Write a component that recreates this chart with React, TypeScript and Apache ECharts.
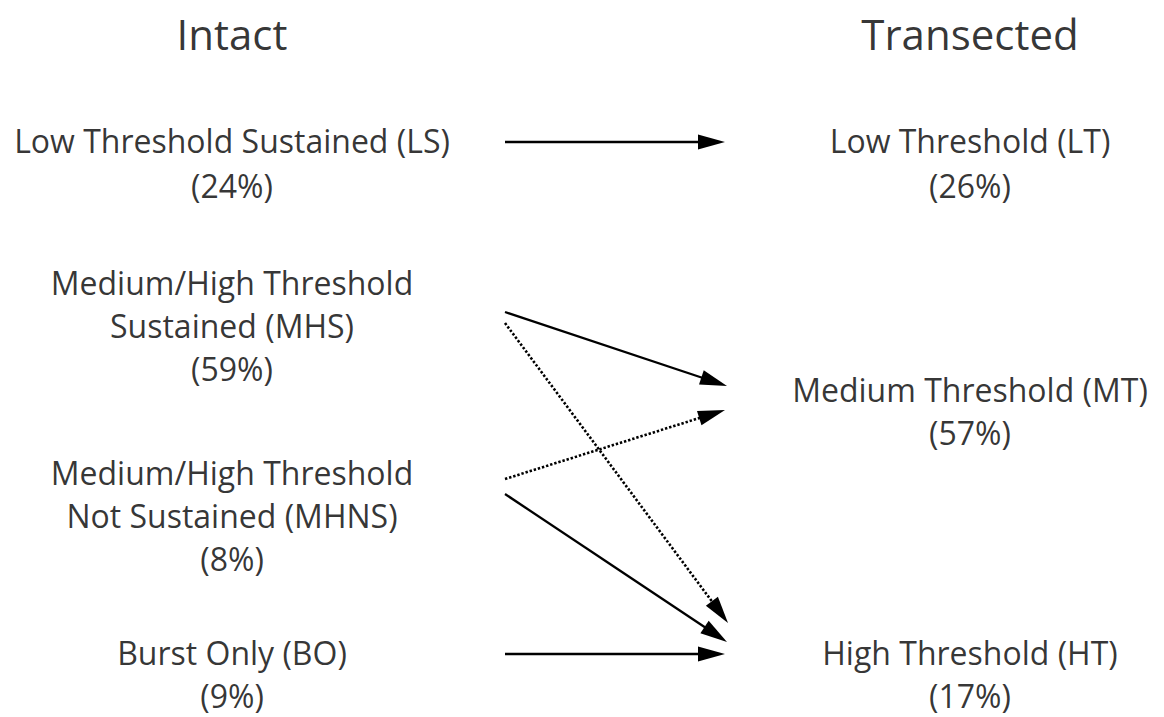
import React, { useEffect, useRef } from "react";
import * as echarts from "echarts";

// ---- data ----
const columnTitles = ["Intact", "Transected"];
const intactClasses = [
  "Low Threshold Sustained (LS)",
  "Medium/High Threshold\nSustained (MHS)",
  "Medium/High Threshold\nNot Sustained (MHNS)",
  "Burst Only (BO)",
];
const intactShares = [24, 59, 8, 9];
const transectedClasses = ["Low Threshold (LT)", "Medium Threshold (MT)", "High Threshold (HT)"];
const transectedShares = [26, 57, 17];
// transitions (index into intact -> index into transected)
const transitionFrom = [0, 1, 1, 2, 2, 3];
const transitionTo = [0, 1, 2, 1, 2, 2];
const transitionDotted = [false, false, true, true, false, false];

// ---- layout (positions in the chart's own scale, separate from data) ----
const W = 1164;
const H = 717;
const LAYOUT = {
  leftX: 232,
  rightX: 970,
  titleY: 33,
  intactNameY: [140, 304, 494, 652],
  intactShareY: [185, 368, 558, 695],
  transNameY: [140, 389, 652],
  transShareY: [185, 432, 695],
  startX: [505, 505, 505, 505, 505, 505],
  startY: [142, 312, 323, 479, 494, 654],
  tipX: [725, 727, 728, 725, 727, 725],
  tipY: [142, 386, 623, 410, 642, 654],
  headW: 15,
  headL: 27,
};

export default function App() {
  const ref = useRef<HTMLDivElement>(null);
  useEffect(() => {
    document.body.style.margin = "0";
    const chart = echarts.init(ref.current!, null, { renderer: "svg" });

    const textColor = "#000";
    const font = "'Open Sans', 'Noto Sans', sans-serif";

    const titleData = columnTitles.map((t, i) => ({
      name: t,
      value: [i === 0 ? LAYOUT.leftX : LAYOUT.rightX, LAYOUT.titleY],
    }));
    const nameData = [
      ...intactClasses.map((c, i) => ({ name: c, value: [LAYOUT.leftX, LAYOUT.intactNameY[i]] })),
      ...transectedClasses.map((c, i) => ({ name: c, value: [LAYOUT.rightX, LAYOUT.transNameY[i]] })),
    ];
    const shareData = [
      ...intactShares.map((s, i) => ({ name: `(${s}%)`, value: [LAYOUT.leftX, LAYOUT.intactShareY[i]] })),
      ...transectedShares.map((s, i) => ({ name: `(${s}%)`, value: [LAYOUT.rightX, LAYOUT.transShareY[i]] })),
    ];

    const arrowData = transitionFrom.map((f, i) => {
      const x1 = LAYOUT.startX[i];
      const y1 = LAYOUT.startY[i];
      const tx = LAYOUT.tipX[i];
      const ty = LAYOUT.tipY[i];
      const dx = tx - x1;
      const dy = ty - y1;
      const len = Math.sqrt(dx * dx + dy * dy);
      const ex = tx - (dx / len) * (LAYOUT.headL / 2);
      const ey = ty - (dy / len) * (LAYOUT.headL / 2);
      return {
        name: `${intactClasses[f]} -> ${transectedClasses[transitionTo[i]]}`,
        coords: [
          [x1, y1],
          [ex, ey],
        ],
        lineStyle: transitionDotted[i]
          ? { type: [2.4, 1.9], width: 2.6, color: "#000", opacity: 1 }
          : { type: "solid", width: 2.3, color: "#000", opacity: 1 },
      };
    });

    const labelSeries = (data: any[], size: number, lh: number) => ({
      type: "scatter",
      silent: true,
      symbolSize: 0.01,
      itemStyle: { color: "transparent" },
      data,
      label: {
        show: true,
        position: "inside",
        formatter: "{b}",
        fontFamily: font,
        fontSize: size,
        lineHeight: lh,
        color: textColor,
        align: "center",
        verticalAlign: "middle",
      },
    });

    chart.setOption({
      animation: false,
      backgroundColor: "#ffffff",
      grid: { left: 0, right: 0, top: 0, bottom: 0, containLabel: false },
      xAxis: { type: "value", min: 0, max: W, show: false },
      yAxis: { type: "value", min: 0, max: H, inverse: true, show: false },
      series: [
        labelSeries(titleData, 42, 48),
        labelSeries(nameData, 32, 43),
        labelSeries(shareData, 32, 34),
        {
          type: "lines",
          coordinateSystem: "cartesian2d",
          silent: true,
          symbol: ["none", "triangle"],
          symbolSize: [1, [LAYOUT.headW, LAYOUT.headL]],
          itemStyle: { color: "#000", opacity: 1 },
          lineStyle: { opacity: 1, color: "#000" },
          data: arrowData,
        },
      ],
    });
    return () => chart.dispose();
  }, []);
  return <div ref={ref} style={{ width: W, height: H }} />;
}
